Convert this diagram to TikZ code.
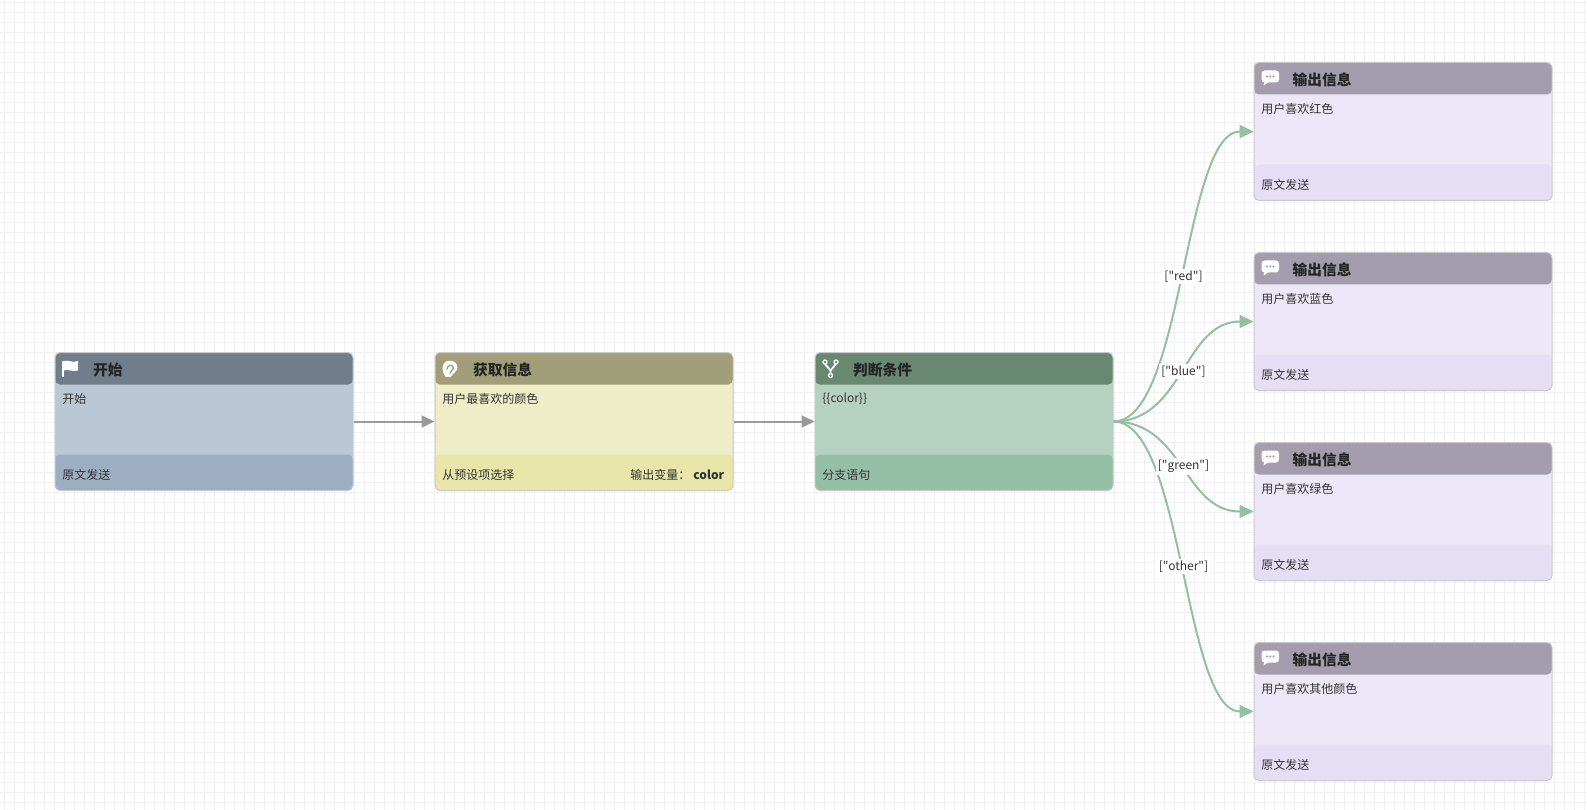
\documentclass[tikz,border=0pt]{standalone}
\usepackage{fontspec}
\setmainfont{Noto Sans CJK SC}[Ligatures=TeXOff]
\usepackage{tikz}
\usetikzlibrary{arrows.meta,positioning}
\definecolor{gridline}{HTML}{F1F1F1}
\definecolor{cardline}{HTML}{C9C9C9}
\definecolor{starthead}{HTML}{707E8B}
\definecolor{startbody}{HTML}{BAC8D5}
\definecolor{startfoot}{HTML}{9DAEC3}
\definecolor{askhead}{HTML}{A09F7A}
\definecolor{askbody}{HTML}{EDEDC7}
\definecolor{askfoot}{HTML}{E8E6A9}
\definecolor{ifhead}{HTML}{698872}
\definecolor{ifbody}{HTML}{B4D2BF}
\definecolor{iffoot}{HTML}{95BFA6}
\definecolor{sayhead}{HTML}{A39DAE}
\definecolor{saybody}{HTML}{ECE8F8}
\definecolor{sayfoot}{HTML}{E4DFF5}
\definecolor{flowgray}{HTML}{9A9A9A}
\definecolor{flowgreen}{HTML}{93BFA2}
\definecolor{ink}{HTML}{333333}
\definecolor{titleink}{HTML}{242424}
\tikzset{
  card/.style n args={3}{draw=cardline, line width=1pt, fill=#2, rounded corners=5pt,
    minimum width=298pt, minimum height=138pt, inner sep=0pt,
    path picture={
      \fill[#1] (path picture bounding box.north west) rectangle ([yshift=-32pt]path picture bounding box.north east);
      \fill[#3] ([yshift=36pt]path picture bounding box.south west) rectangle (path picture bounding box.south east);
    }},
  cardtitle/.style={anchor=west, inner sep=0pt, text=titleink, font=\fontsize{14.7}{16}\selectfont\bfseries},
  cardtext/.style={anchor=west, inner sep=0pt, text=ink, font=\fontsize{12}{14}\selectfont},
  flow/.style={flowgray, line width=2pt, -{Triangle[length=13pt,width=12pt]}},
  branch/.style={flowgreen, line width=2pt, -{Triangle[length=14pt,width=13pt]}},
  caselabel/.style={fill=white, inner sep=2pt, text=ink, font=\fontsize{12}{14}\selectfont},
  flagicon/.pic={
    \draw[white, line width=1.6pt] (0,0) -- (0,16);
    \fill[white] (1,0.5) .. controls (6,-1) and (9,3) .. (15,0.5) -- (15,10) .. controls (9,12) and (6,8) .. (1,10) -- cycle;
  },
  earicon/.pic={
    \fill[white] (3,16) .. controls (1,14) and (0,11) .. (0,7.5) .. controls (0,3) and (3,0) .. (7.5,0)
      .. controls (12,0) and (15,3) .. (15,7) .. controls (15,10.5) and (11,11.5) .. (10,14)
      .. controls (9,17) and (5,17) .. (3,16) -- cycle;
    \draw[askhead, line width=1.3pt, line cap=round] (4.5,8.5) .. controls (4.5,3.5) and (11,3.5) .. (11,7.5) .. controls (11,9.5) and (7.5,9.5) .. (7.5,12.5);
  },
  forkicon/.pic={
    \draw[white, line width=1.8pt] (2.5,4) -- (8,10.5) -- (13.5,4) (8,10.5) -- (8,13.5);
    \draw[white, line width=1.3pt] (2.5,2) circle (2pt) (13.5,2) circle (2pt) (8,15.5) circle (2pt);
  },
  bubbleicon/.pic={
    \fill[white, rounded corners=3pt] (0,0) rectangle (17.5,12);
    \fill[white] (3,11) -- (2,15) -- (8,11) -- cycle;
    \fill[sayhead] (5.5,6) circle (1.2pt) (8.75,6) circle (1.2pt) (12,6) circle (1.2pt);
  }
}

\begin{document}
\begin{tikzpicture}[x=1pt, y=-1pt]
\useasboundingbox (0,0) rectangle (1587,810);
\fill[white] (0,0) rectangle (1587,810);
\foreach \gx in {4,14,...,1584} \draw[gridline] (\gx,0) -- (\gx,810);
\foreach \gy in {2,12,...,802} \draw[gridline] (0,\gy) -- (1587,\gy);

\node[card={starthead}{startbody}{startfoot}] (start) at (204,421.5) {};
\node[card={askhead}{askbody}{askfoot}] (ask) [right=81pt of start] {};
\node[card={ifhead}{ifbody}{iffoot}] (cond) [right=81pt of ask] {};
\node[card={sayhead}{saybody}{sayfoot}] (say1) at (1403,131.5) {};
\node[card={sayhead}{saybody}{sayfoot}] (say2) at (1403,321.5) {};
\node[card={sayhead}{saybody}{sayfoot}] (say3) at (1403,511.5) {};
\node[card={sayhead}{saybody}{sayfoot}] (say4) at (1403,711.5) {};

\pic at ([xshift=8.5pt,yshift=-8.5pt]start.north west) {flagicon};
\node[cardtitle] (starttitle) at ([xshift=38.5pt,yshift=-17.5pt]start.north west) {开始};
\node[cardtext] (starttext) at ([xshift=7.7pt,yshift=-46.7pt]start.north west) {开始};
\node[cardtext] (startfoot) at ([xshift=7.7pt,yshift=15.7pt]start.south west) {原文发送};

\pic at ([xshift=8pt,yshift=-8.7pt]ask.north west) {earicon};
\node[cardtitle] (asktitle) at ([xshift=38.5pt,yshift=-17.5pt]ask.north west) {获取信息};
\node[cardtext] (asktext) at ([xshift=7.7pt,yshift=-46.7pt]ask.north west) {用户最喜欢的颜色};
\node[cardtext] (askfoot) at ([xshift=7.7pt,yshift=15.7pt]ask.south west) {从预设项选择};
\node[cardtext, anchor=east] (askvar) at ([xshift=-9pt,yshift=15.7pt]ask.south east) {输出变量：\hspace{3pt}\textbf{color}};

\pic at ([xshift=8pt,yshift=-8pt]cond.north west) {forkicon};
\node[cardtitle] (condtitle) at ([xshift=38.5pt,yshift=-17.5pt]cond.north west) {判断条件};
\node[cardtext] (condtext) at ([xshift=7.7pt,yshift=-46.7pt]cond.north west) {\{\{color\}\}};
\node[cardtext] (condfoot) at ([xshift=7.7pt,yshift=15.7pt]cond.south west) {分支语句};

\foreach \say/\msg in {say1/用户喜欢红色,say2/用户喜欢蓝色,say3/用户喜欢绿色,say4/用户喜欢其他颜色} {
  \pic at ([xshift=8pt,yshift=-8.5pt]\say.north west) {bubbleicon};
  \node[cardtitle] (\say title) at ([xshift=39pt,yshift=-17.5pt]\say.north west) {输出信息};
  \node[cardtext] (\say text) at ([xshift=7.7pt,yshift=-46.7pt]\say.north west) {\msg};
  \node[cardtext] (\say foot) at ([xshift=7.7pt,yshift=15.7pt]\say.south west) {原文发送};
}

\draw[flow] (start) -- (ask);
\draw[flow] (ask) -- (cond);
\draw[branch] (cond.east) .. controls +(70,0) and +(-70,0) .. (say1.west) coordinate[pos=0.5] (redmid);
\draw[branch] (cond.east) .. controls +(70,0) and +(-70,0) .. (say2.west) coordinate[pos=0.5] (bluemid);
\draw[branch] (cond.east) .. controls +(70,0) and +(-70,0) .. (say3.west) coordinate[pos=0.5] (greenmid);
\draw[branch] (cond.east) .. controls +(70,0) and +(-70,0) .. (say4.west) coordinate[pos=0.5] (othermid);

\node[caselabel] (redcase) at (redmid) {["red"]};
\node[caselabel] (bluecase) at (bluemid) {["blue"]};
\node[caselabel] (greencase) at (greenmid) {["green"]};
\node[caselabel] (othercase) at (othermid) {["other"]};
\end{tikzpicture}
\end{document}
